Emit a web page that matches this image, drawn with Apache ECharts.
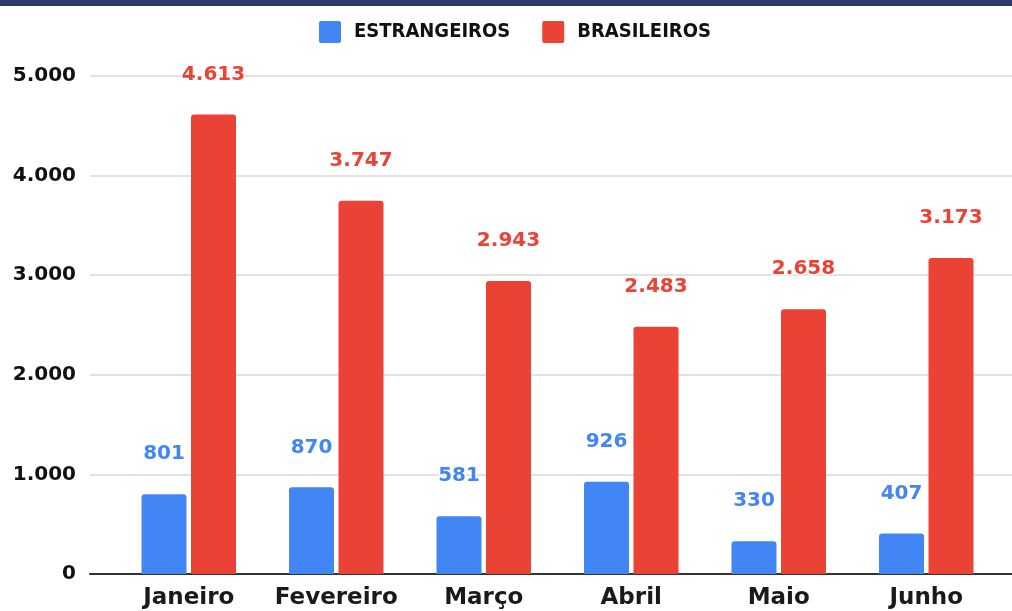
<!DOCTYPE html>
<html>
<head>
<meta charset="utf-8">
<script src="https://cdn.jsdelivr.net/npm/echarts@6/dist/echarts.min.js"></script>
<style>
  html, body { margin: 0; padding: 0; background: #fff; }
  #chart { width: 1012px; height: 611px; }
</style>
</head>
<body>
<div id="chart"></div>
<script>
// dados
var meses = ['Janeiro', 'Fevereiro', 'Março', 'Abril', 'Maio', 'Junho'];
var estrangeiros = [801, 870, 581, 926, 330, 407];
var brasileiros = [4613, 3747, 2943, 2483, 2658, 3173];
var yTicks = ['0', '1.000', '2.000', '3.000', '4.000', '5.000'];

var AZUL = '#4285F4';
var VERMELHO = '#EA4335';

// 4613 -> "4.613"
function milhar(v) {
  return String(v).replace(/\B(?=(\d{3})+(?!\d))/g, '.');
}

var chart = echarts.init(document.getElementById('chart'));

var option = {
  animation: false,
  graphic: [
    { type: 'rect', left: 0, top: 0, shape: { width: 1012, height: 6 }, style: { fill: '#2b3a6b' }, z: 10 }
  ],
  legend: {
    left: 314,
    top: 16,
    itemWidth: 22,
    itemHeight: 22,
    itemGap: 32,
    icon: 'path://M2,0 L20,0 Q22,0 22,2 L22,20 Q22,22 20,22 L2,22 Q0,22 0,20 L0,2 Q0,0 2,0 Z',
    textStyle: {
      fontFamily: 'DejaVu Sans Condensed, Liberation Sans, sans-serif',
      fontWeight: 'bold',
      fontSize: 20,
      color: '#111',
      padding: [0, 0, 0, 8]
    },
    data: ['ESTRANGEIROS', 'BRASILEIROS']
  },
  grid: [
    // grade das barras
    { left: 115, right: 12, top: 76, bottom: 37 },
    // fundo: linhas de grade e rótulos do eixo y
    { left: 90, right: 0, top: 76, bottom: 37 }
  ],
  xAxis: [
    {
      type: 'category',
      gridIndex: 0,
      data: meses,
      axisLine: { show: false },
      axisTick: { show: false },
      axisLabel: {
        interval: 0,
        margin: 13,
        color: '#1a1a1a',
        fontFamily: 'DejaVu Sans',
        fontWeight: 'bold',
        fontSize: 23
      }
    },
    {
      type: 'value',
      gridIndex: 1,
      min: 0,
      max: 1,
      axisLine: { show: true, onZero: false, lineStyle: { color: '#333', width: 2 } },
      axisTick: { show: false },
      axisLabel: { show: false },
      splitLine: { show: false }
    }
  ],
  yAxis: [
    {
      type: 'value',
      gridIndex: 0,
      min: 0,
      max: 5000,
      interval: 1000,
      show: false,
      splitLine: { show: false }
    },
    {
      type: 'value',
      gridIndex: 1,
      min: 0,
      max: 5000,
      interval: 1000,
      axisLine: { show: false },
      axisTick: { show: false },
      splitLine: { show: true, lineStyle: { color: '#d9d9d9', width: 1.5 } },
      axisLabel: {
        margin: 14,
        color: '#111',
        fontFamily: 'DejaVu Sans',
        fontWeight: 'bold',
        fontSize: 20,
        formatter: function (v) { return yTicks[Math.round(v / 1000)]; }
      }
    }
  ],
  series: [
    {
      name: 'ESTRANGEIROS',
      type: 'bar',
      xAxisIndex: 0,
      yAxisIndex: 0,
      barWidth: 45,
      barGap: '10%',
      itemStyle: { color: AZUL, borderRadius: [3, 3, 0, 0] },
      label: {
        show: true,
        position: 'top',
        distance: 30,
        color: AZUL,
        fontFamily: 'DejaVu Sans',
        fontWeight: 'bold',
        fontSize: 20,
        textBorderColor: '#fff',
        textBorderWidth: 3,
        formatter: function (p) { return milhar(p.value); }
      },
      data: estrangeiros
    },
    {
      name: 'BRASILEIROS',
      type: 'bar',
      xAxisIndex: 0,
      yAxisIndex: 0,
      barWidth: 45,
      barGap: '10%',
      itemStyle: { color: VERMELHO, borderRadius: [3, 3, 0, 0] },
      label: {
        show: true,
        position: 'top',
        distance: 30,
        color: VERMELHO,
        fontFamily: 'DejaVu Sans',
        fontWeight: 'bold',
        fontSize: 20,
        textBorderColor: '#fff',
        textBorderWidth: 3,
        formatter: function (p) { return milhar(p.value); }
      },
      data: brasileiros
    }
  ]
};

chart.setOption(option);

window.addEventListener('resize', function () {
  chart.resize();
});
</script>
</body>
</html>
